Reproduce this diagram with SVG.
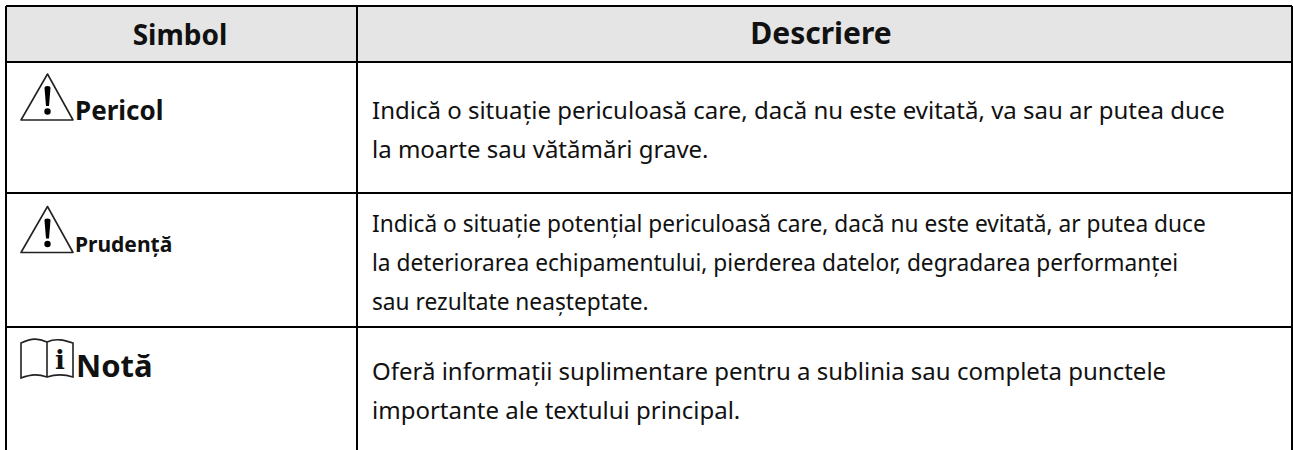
<svg xmlns="http://www.w3.org/2000/svg" width="1293" height="450" viewBox="0 0 1293 450">
<style>
text{font-family:"Noto Sans","Open Sans",sans-serif;fill:#111}
.h{font-size:28px;font-weight:700;text-anchor:middle}
.b{font-size:24px}
.s{font-size:22.700px}
.line{stroke:#000;stroke-width:2;fill:none}
.thin{stroke:#222;stroke-width:1.600;fill:none}
</style>
<defs>
<g id="warn">
<path class="thin" d="M47.500 74 L21 120 H73 Z" stroke-linejoin="round"/>
<path d="M44.500 88 Q44.500 86 47.500 86 Q50.500 86 50.500 88 L49 106 h-3 Z" fill="#000"/>
<circle cx="47.500" cy="111.500" r="3.200" fill="#000"/>
</g>
</defs>
<rect x="6" y="6" width="1286" height="56" fill="#e5e5e5"/>
<g id="table-lines">
<path class="line" d="M6 6 H1292 M6 62 H1292 M6 193 H1292 M6 327 H1292 M6 6 V450 M357 6 V450 M1292 6 V450"/>
</g>
<g id="head"><text class="h" x="180" y="45">Simbol</text><text class="h" x="821" y="44" style="font-size:30px">Descriere</text></g>
<g id="pericol"><use href="#warn"/><text x="75" y="120" font-size="26" font-weight="700">Pericol</text>
<text class="b" x="372" y="119">Indică o situație periculoasă care, dacă nu este evitată, va sau ar putea duce</text>
<text class="b" x="372" y="158">la moarte sau vătămări grave.</text></g>
<g id="prudenta"><use href="#warn" transform="translate(0,132.500)"/><text x="75" y="252" font-size="21" font-weight="700">Prudență</text>
<text class="s" x="372" y="232">Indică o situație potențial periculoasă care, dacă nu este evitată, ar putea duce</text>
<text class="s" x="372" y="271">la deteriorarea echipamentului, pierderea datelor, degradarea performanței</text>
<text class="s" x="372" y="310">sau rezultate neașteptate.</text></g>
<g id="nota">
<path class="thin" d="M21 343 C32 338 38 338 47 342 C56 338 64 340 73 343 V377 C64 374 56 374 47 377 C38 374 32 374 21 378 Z M47 342 V377"/>
<text x="55" y="369" font-size="26" font-weight="700" style="font-family:'DejaVu Serif',serif">i</text>
<text x="76" y="377" font-size="31" font-weight="700">Notă</text>
<text class="b" x="372" y="380">Oferă informații suplimentare pentru a sublinia sau completa punctele</text>
<text class="b" x="372" y="419">importante ale textului principal.</text></g>
</svg>
